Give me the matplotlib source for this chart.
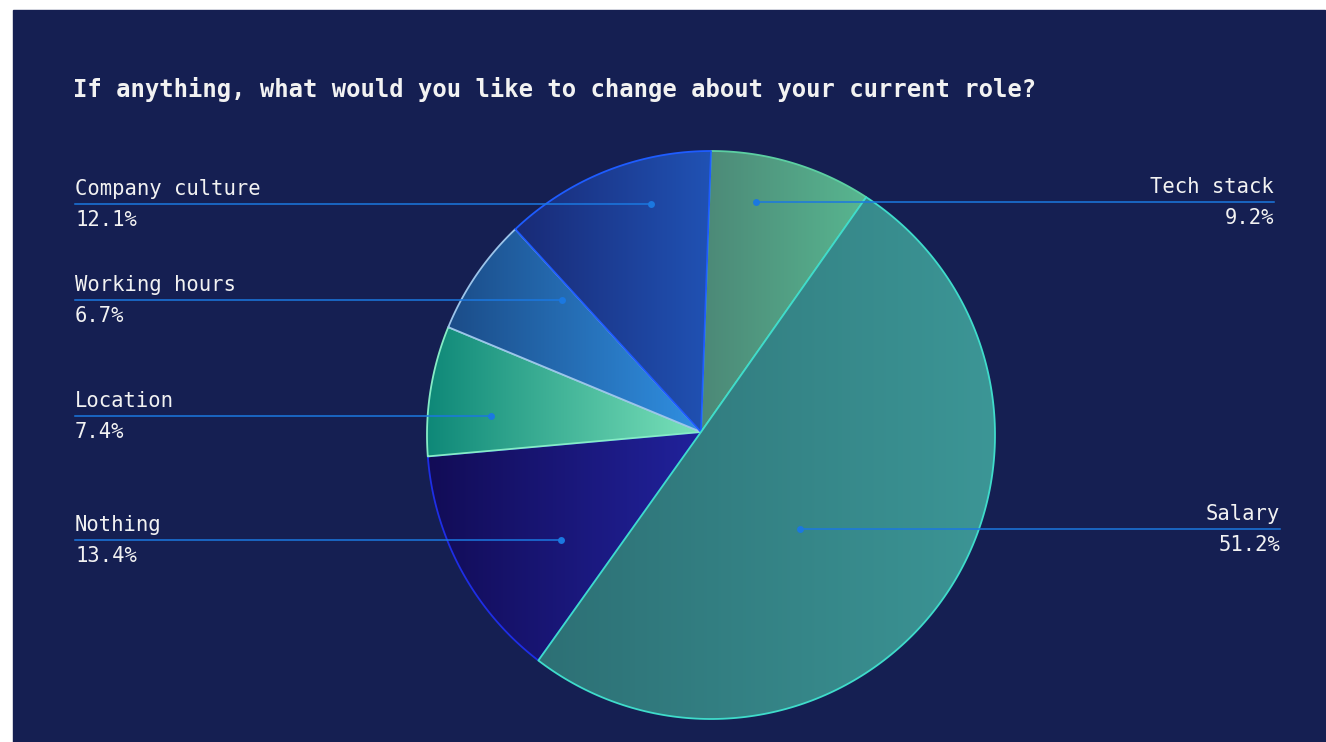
import numpy as np
import matplotlib
matplotlib.use("Agg")
import matplotlib.pyplot as plt
from matplotlib.patches import Polygon, Rectangle
from matplotlib.colors import LinearSegmentedColormap

# survey answers, clockwise from 12 o'clock
categories = ["Tech stack", "Salary", "Nothing", "Location", "Working hours", "Company culture"]
shares = [9.2, 51.2, 13.4, 7.4, 6.7, 12.1]

# slice fills: horizontal gradient (left colour, right colour) and outline colour
fill_left = ["#4c8877", "#2d7075", "#120c56", "#0e8878", "#1b4c88", "#192a76"]
fill_right = ["#58b690", "#3c9696", "#21229c", "#7ae2ba", "#3090e2", "#2052b4"]
edges = ["#5ccfa2", "#3fdccb", "#1e2ee6", "#86ecc6", "#9cc4ea", "#1e5cff"]

# label placement: side, y of the leader line, x of the dot inside the slice
label_side = ["right", "right", "left", "left", "left", "left"]
label_y = [202, 529, 540, 416, 300, 204]
dot_x = [756, 800, 561, 491, 562, 651]

BG = "#151f52"
TEXT = "#f2f2f2"
LEADER = "#1b78e0"
MONO = "DejaVu Sans Mono"

fig = plt.figure(figsize=(13.26, 7.42), dpi=100, facecolor="white")
ax = fig.add_axes([0, 0, 1, 1])
ax.set_xlim(0, 1326)
ax.set_ylim(742, 0)
ax.axis("off")
ax.add_patch(Rectangle((13, 10), 1312, 740, color=BG, zorder=0))

ax.text(73, 89, "If anything, what would you like to change about your current role?",
        color=TEXT, fontsize=17.2, fontweight="bold", family=MONO,
        va="center", ha="left")

# pie geometry (pixels)
cx, cy, r = 711, 435, 284
apex = (701, 432)

fracs = np.array(shares) / sum(shares)
bounds = 90 - 360 * np.concatenate([[0], np.cumsum(fracs)])

polys = []
for i in range(len(categories)):
    t = np.radians(np.linspace(bounds[i], bounds[i + 1], 200))
    xs = cx + r * np.cos(t)
    ys = cy - r * np.sin(t)
    pts = np.vstack([[apex], np.column_stack([xs, ys])])
    polys.append(pts)

# drawing order so shared borders pick up the right outline colour
order = [0, 2, 3, 4, 5, 1]
grad = np.linspace(0, 1, 256).reshape(1, -1)
for z, i in enumerate(order):
    pts = polys[i]
    x0, x1 = pts[:, 0].min(), pts[:, 0].max()
    y0, y1 = pts[:, 1].min(), pts[:, 1].max()
    cmap = LinearSegmentedColormap.from_list(categories[i], [fill_left[i], fill_right[i]])
    clip = Polygon(pts, closed=True, facecolor="none", edgecolor="none")
    ax.add_patch(clip)
    im = ax.imshow(grad, cmap=cmap, extent=(x0, x1, y1, y0), aspect="auto",
                   interpolation="bicubic", zorder=2 + z)
    im.set_clip_path(clip)
    ax.add_patch(Polygon(pts, closed=True, facecolor="none", edgecolor=edges[i],
                         linewidth=1.3, joinstyle="round", zorder=2 + z))

# leader lines and labels
for i, name in enumerate(categories):
    y = label_y[i]
    if label_side[i] == "left":
        ax.plot([75, dot_x[i]], [y, y], color=LEADER, lw=1.1, zorder=20)
        tx, ha = 75, "left"
    else:
        end = 1274 if i == 0 else 1280
        ax.plot([dot_x[i], end], [y, y], color=LEADER, lw=1.1, zorder=20)
        tx, ha = end, "right"
    ax.plot(dot_x[i], y, "o", color=LEADER, ms=5, mec="none", zorder=21)
    ax.text(tx, y - 15, name, color=TEXT, fontsize=14.8, family=MONO,
            ha=ha, va="center", zorder=22)
    ax.text(tx, y + 16, f"{shares[i]:.1f}%", color=TEXT, fontsize=14.8,
            family=MONO, ha=ha, va="center", zorder=22)

fig.savefig("out.png", dpi=100, facecolor=fig.get_facecolor())
